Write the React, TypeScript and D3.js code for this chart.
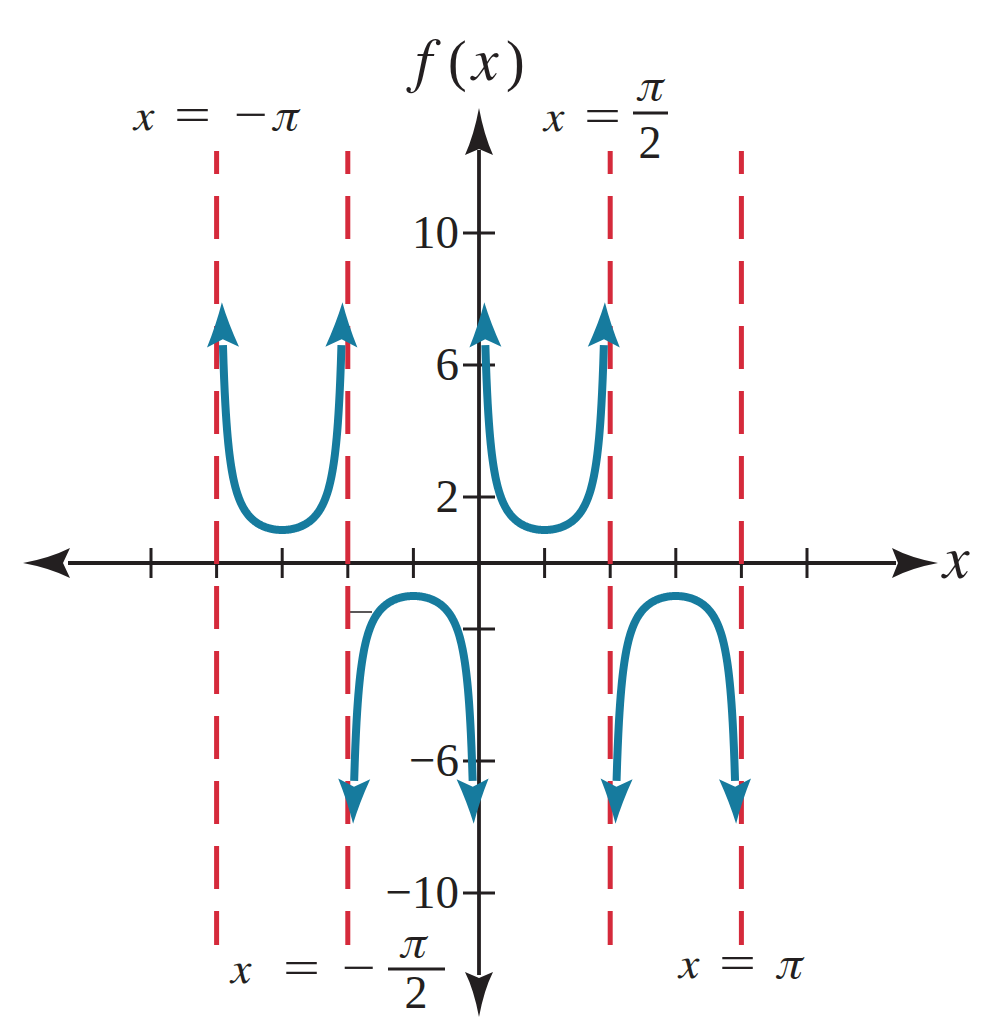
import React from "react";
import * as d3 from "d3";

const PI = Math.PI;
// Chart content
const asymptotes = [-PI, -PI / 2, PI / 2, PI];
const branchStarts = [-PI, -PI / 2, 0, PI / 2];
const xTickSteps = [-5, -4, -3, -2, -1, 1, 2, 3, 4, 5]; // multiples of pi/4
const yTicks = [10, 6, 2, -2, -6, -10];
const yTickLabels = ["10", "6", "2", "", "−6", "−10"];
const f = (x: number) => 1 / Math.sin(2 * x);
const arrowTipValue = 7.9;
const lineEndValue = 6.6;

const W = 1008;
const H = 1036;
const BLACK = "#231f20";
const RED = "#d52a3b";
const BLUE = "#167b9e";
const UP: React.CSSProperties = { fontFamily: "Liberation Serif" };
const IT: React.CSSProperties = { fontFamily: "FreeSerif", fontStyle: "italic" };

const xScale = d3.scaleLinear().domain([-PI, PI]).range([216.6, 741.4]);
const yScale = d3.scaleLinear().domain([-10, 10]).range([893, 233]);

function offsetFor(v: number) {
  return Math.asin(1 / v) / 2;
}

function Arrow({ bx, by, tx, ty, fill }: { bx: number; by: number; tx: number; ty: number; fill: string }) {
  const dx = tx - bx;
  const dy = ty - by;
  const len = Math.hypot(dx, dy);
  const ux = dx / len;
  const uy = dy / len;
  const px = -uy;
  const py = ux;
  const hw = 16;
  const blx = bx - ux * 2 + px * hw;
  const bly = by - uy * 2 + py * hw;
  const brx = bx - ux * 2 - px * hw;
  const bry = by - uy * 2 - py * hw;
  const nx = bx + ux * 6;
  const ny = by + uy * 6;
  const c1x = bx + ux * len * 0.5 + px * 6;
  const c1y = by + uy * len * 0.5 + py * 6;
  const c2x = bx + ux * len * 0.5 - px * 6;
  const c2y = by + uy * len * 0.5 - py * 6;
  const d = `M${tx},${ty} Q${c1x},${c1y} ${blx},${bly} L${nx},${ny} L${brx},${bry} Q${c2x},${c2y} ${tx},${ty} Z`;
  return <path d={d} fill={fill} />;
}

function Eq({ x, y, w }: { x: number; y: number; w: number }) {
  return (
    <text x={x} y={y} fontSize={46} fill={BLACK} style={UP} textLength={w} lengthAdjust="spacingAndGlyphs">
      =
    </text>
  );
}
function Minus({ x, y, w }: { x: number; y: number; w: number }) {
  return (
    <text x={x} y={y} fontSize={46} fill={BLACK} style={UP} textLength={w} lengthAdjust="spacingAndGlyphs">
      −
    </text>
  );
}

export default function App() {
  const line = d3
    .line<[number, number]>()
    .x((d) => xScale(d[0]))
    .y((d) => yScale(d[1]));

  const branches = branchStarts.map((a) => {
    const uEnd = offsetFor(lineEndValue);
    const uTip = offsetFor(arrowTipValue);
    const x0 = a + uEnd;
    const x1 = a + PI / 2 - uEnd;
    const pts: [number, number][] = d3.range(0, 201).map((i) => {
      const x = x0 + ((x1 - x0) * i) / 200;
      return [x, f(x)];
    });
    const s = Math.sign(f(a + PI / 4));
    const arrows = [
      { bx: xScale(a + uEnd), by: yScale(s * lineEndValue), tx: xScale(a + uTip), ty: yScale(s * arrowTipValue) },
      {
        bx: xScale(a + PI / 2 - uEnd),
        by: yScale(s * lineEndValue),
        tx: xScale(a + PI / 2 - uTip),
        ty: yScale(s * arrowTipValue),
      },
    ];
    return { d: line(pts) || "", arrows };
  });

  const x0 = xScale(0);
  const y0 = yScale(0);

  return (
    <svg width={W} height={H} style={{ position: "absolute", left: 0, top: 0, background: "#fff" }}>
      <rect x={0} y={0} width={W} height={H} fill="#fff" />
      {/* x axis */}
      <line x1={68} x2={896} y1={y0} y2={y0} stroke={BLACK} strokeWidth={3.8} />
      <path d={`M23,${y0} Q50,${y0 - 5} 70,${y0 - 15} L63,${y0} L70,${y0 + 15} Q50,${y0 + 5} 23,${y0} Z`} fill={BLACK} />
      <path d={`M938,${y0} Q911,${y0 - 5} 892,${y0 - 15} L898,${y0} L892,${y0 + 15} Q911,${y0 + 5} 938,${y0} Z`} fill={BLACK} />
      {xTickSteps.map((k) => (
        <line key={k} x1={xScale((k * PI) / 4)} x2={xScale((k * PI) / 4)} y1={y0 - 15} y2={y0 + 15} stroke={BLACK} strokeWidth={3} />
      ))}
      {/* y axis */}
      <line x1={x0} x2={x0} y1={150} y2={975} stroke={BLACK} strokeWidth={3.8} />
      <path d={`M${x0},108 Q${x0 - 5},135 ${x0 - 14},155 L${x0},149 L${x0 + 14},155 Q${x0 + 5},135 ${x0},108 Z`} fill={BLACK} />
      <path d={`M${x0},1017 Q${x0 - 5},990 ${x0 - 14},972 L${x0},978 L${x0 + 14},972 Q${x0 + 5},990 ${x0},1017 Z`} fill={BLACK} />
      {yTicks.map((v) => (
        <line key={v} x1={x0 - 16} x2={x0 + 16} y1={yScale(v)} y2={yScale(v)} stroke={BLACK} strokeWidth={3} />
      ))}
      {yTicks.map((v, i) => (
        <text key={"l" + v} x={x0 - 20} y={yScale(v) + 15} textAnchor="end" fontSize={47} fill={BLACK} style={UP}>
          {yTickLabels[i]}
        </text>
      ))}
      <line x1={350} x2={372} y1={612} y2={612} stroke={BLACK} strokeWidth={1.5} />
      {/* asymptotes */}
      {asymptotes.map((a) => (
        <line
          key={a}
          x1={xScale(a)}
          x2={xScale(a)}
          y1={151}
          y2={945}
          stroke={RED}
          strokeWidth={5}
          strokeDasharray="43 22"
          strokeDashoffset={20}
        />
      ))}
      {/* curves */}
      {branches.map((b, i) => (
        <g key={i}>
          <path d={b.d} fill="none" stroke={BLUE} strokeWidth={8} />
          {b.arrows.map((ar, j) => (
            <Arrow key={j} {...ar} fill={BLUE} />
          ))}
        </g>
      ))}
      {/* axis labels */}
      <text x={411} y={80} fontSize={60} fill={BLACK} style={IT}>f</text>
      <text x={448} y={80} fontSize={56} fill={BLACK} style={UP}>(</text>
      <text x={472} y={80} fontSize={60} fill={BLACK} style={IT}>x</text>
      <text x={506} y={80} fontSize={56} fill={BLACK} style={UP}>)</text>
      <text x={943} y={578} fontSize={60} fill={BLACK} style={IT}>x</text>
      {/* x = -pi */}
      <text x={134} y={130} fontSize={46} fill={BLACK} style={IT}>x</text>
      <Eq x={174} y={130} w={37} />
      <Minus x={234} y={130} w={34} />
      <text x={272} y={130} fontSize={46} fill={BLACK} style={IT}>π</text>
      {/* x = pi/2 */}
      <text x={544} y={131} fontSize={46} fill={BLACK} style={IT}>x</text>
      <Eq x={584} y={131} w={37} />
      <text x={650} y={100} fontSize={46} fill={BLACK} textAnchor="middle" style={IT}>π</text>
      <rect x={633} y={111.5} width={35} height={3} fill={BLACK} />
      <text x={650} y={158} fontSize={46} fill={BLACK} textAnchor="middle" style={UP}>2</text>
      {/* x = -pi/2 */}
      <text x={231} y={983} fontSize={46} fill={BLACK} style={IT}>x</text>
      <Eq x={283} y={983} w={37} />
      <Minus x={342} y={983} w={34} />
      <text x={413} y={957} fontSize={46} fill={BLACK} textAnchor="middle" style={IT}>π</text>
      <rect x={388} y={967.5} width={57} height={3} fill={BLACK} />
      <text x={416} y={1008} fontSize={46} fill={BLACK} textAnchor="middle" style={UP}>2</text>
      {/* x = pi */}
      <text x={679} y={978} fontSize={46} fill={BLACK} style={IT}>x</text>
      <Eq x={719} y={978} w={37} />
      <text x={776} y={978} fontSize={46} fill={BLACK} style={IT}>π</text>
    </svg>
  );
}
